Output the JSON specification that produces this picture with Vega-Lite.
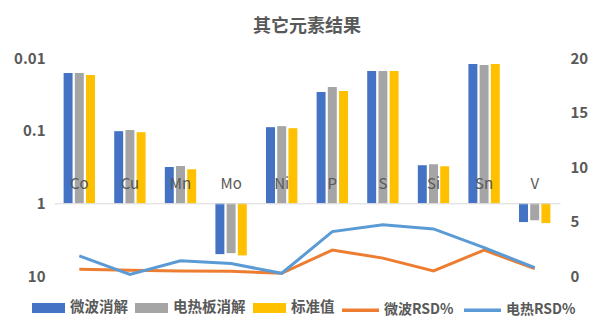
{
  "$schema": "https://vega.github.io/schema/vega-lite/v6.json",
  "width": 506,
  "height": 218,
  "autosize": {"type": "none"},
  "padding": {"left": 54, "top": 58, "right": 42, "bottom": 59},
  "background": "white",
  "title": {"text": "其它元素结果", "fontSize": 18, "fontWeight": "bold", "color": "#595959", "font": "Noto Sans CJK SC", "offset": 15, "anchor": "middle"},
  "config": {"view": {"stroke": null}, "font": "Noto Sans CJK SC"},
  "datasets": {
    "bars": [
      {"element": "Co", "method": "微波消解", "value": 0.0161},
      {"element": "Co", "method": "电热板消解", "value": 0.0161},
      {"element": "Co", "method": "标准值", "value": 0.0171},
      {"element": "Cu", "method": "微波消解", "value": 0.1016},
      {"element": "Cu", "method": "电热板消解", "value": 0.098},
      {"element": "Cu", "method": "标准值", "value": 0.105},
      {"element": "Mn", "method": "微波消解", "value": 0.316},
      {"element": "Mn", "method": "电热板消解", "value": 0.306},
      {"element": "Mn", "method": "标准值", "value": 0.34},
      {"element": "Mo", "method": "微波消解", "value": 5.0},
      {"element": "Mo", "method": "电热板消解", "value": 4.85},
      {"element": "Mo", "method": "标准值", "value": 5.2},
      {"element": "Ni", "method": "微波消解", "value": 0.0895},
      {"element": "Ni", "method": "电热板消解", "value": 0.0867},
      {"element": "Ni", "method": "标准值", "value": 0.0925},
      {"element": "P", "method": "微波消解", "value": 0.0294},
      {"element": "P", "method": "电热板消解", "value": 0.0251},
      {"element": "P", "method": "标准值", "value": 0.0285},
      {"element": "S", "method": "微波消解", "value": 0.0151},
      {"element": "S", "method": "电热板消解", "value": 0.0151},
      {"element": "S", "method": "标准值", "value": 0.0151},
      {"element": "Si", "method": "微波消解", "value": 0.299},
      {"element": "Si", "method": "电热板消解", "value": 0.29},
      {"element": "Si", "method": "标准值", "value": 0.309},
      {"element": "Sn", "method": "微波消解", "value": 0.0121},
      {"element": "Sn", "method": "电热板消解", "value": 0.0125},
      {"element": "Sn", "method": "标准值", "value": 0.0121},
      {"element": "V", "method": "微波消解", "value": 1.81},
      {"element": "V", "method": "电热板消解", "value": 1.71},
      {"element": "V", "method": "标准值", "value": 1.87}
    ],
    "lines": [
      {"element": "Co", "series": "微波RSD%", "rsd": 0.62},
      {"element": "Cu", "series": "微波RSD%", "rsd": 0.53},
      {"element": "Mn", "series": "微波RSD%", "rsd": 0.46},
      {"element": "Mo", "series": "微波RSD%", "rsd": 0.43},
      {"element": "Ni", "series": "微波RSD%", "rsd": 0.25},
      {"element": "P", "series": "微波RSD%", "rsd": 2.38},
      {"element": "S", "series": "微波RSD%", "rsd": 1.64},
      {"element": "Si", "series": "微波RSD%", "rsd": 0.46},
      {"element": "Sn", "series": "微波RSD%", "rsd": 2.38},
      {"element": "V", "series": "微波RSD%", "rsd": 0.68},
      {"element": "Co", "series": "电热RSD%", "rsd": 1.85},
      {"element": "Cu", "series": "电热RSD%", "rsd": 0.15},
      {"element": "Mn", "series": "电热RSD%", "rsd": 1.39},
      {"element": "Mo", "series": "电热RSD%", "rsd": 1.14},
      {"element": "Ni", "series": "电热RSD%", "rsd": 0.25},
      {"element": "P", "series": "电热RSD%", "rsd": 4.07},
      {"element": "S", "series": "电热RSD%", "rsd": 4.69},
      {"element": "Si", "series": "电热RSD%", "rsd": 4.32},
      {"element": "Sn", "series": "电热RSD%", "rsd": 2.6},
      {"element": "V", "series": "电热RSD%", "rsd": 0.77}
    ]
  },
  "layer": [
    {
      "data": {"name": "bars"},
      "mark": {"type": "bar"},
      "encoding": {
        "x": {
          "field": "element", "type": "nominal", "sort": null,
          "scale": {"paddingInner": 0.38, "paddingOuter": 0.19},
          "axis": {"title": null, "orient": "bottom", "offset": -72.7, "domainColor": "#D9D9D9", "domainWidth": 1, "ticks": false, "tickSize": 0, "labelPadding": -20, "labelBaseline": "middle", "labelColor": "#595959", "labelFontSize": 15, "labelFontWeight": "normal", "labelAngle": 0, "zindex": 1}
        },
        "xOffset": {"field": "method", "type": "nominal", "sort": ["微波消解", "电热板消解", "标准值"], "scale": {"paddingInner": 0.2, "paddingOuter": 0}},
        "y": {
          "field": "value", "type": "quantitative",
          "scale": {"type": "log", "domain": [0.01, 10], "reverse": true, "nice": false},
          "axis": {"title": null, "orient": "left", "values": [0.01, 0.1, 1, 10], "format": "~g", "domain": false, "ticks": false, "grid": false, "labelPadding": 9, "labelFontSize": 15, "labelFontWeight": "bold", "labelColor": "#595959"}
        },
        "y2": {"datum": 1},
        "color": {
          "field": "method", "type": "nominal",
          "scale": {"domain": ["微波消解", "电热板消解", "标准值"], "range": ["#4472C4", "#A5A5A5", "#FFC000"]},
          "legend": {"orient": "none", "legendX": -22, "legendY": 233.5, "direction": "horizontal", "title": null, "symbolType": "M-1,-0.303H1V0.303H-1Z", "symbolSize": 1089, "symbolStrokeWidth": 0, "labelFontSize": 14.5, "labelFontWeight": "bold", "labelColor": "#595959", "labelOffset": 5, "columnPadding": 7}
        }
      }
    },
    {
      "data": {"name": "lines"},
      "mark": {"type": "line", "strokeWidth": 3},
      "encoding": {
        "x": {"field": "element", "type": "nominal", "sort": null},
        "y": {
          "field": "rsd", "type": "quantitative",
          "scale": {"domain": [0, 20], "nice": false},
          "axis": {"title": null, "orient": "right", "values": [0, 5, 10, 15, 20], "domain": false, "ticks": false, "grid": false, "labelPadding": 10, "labelFontSize": 15, "labelFontWeight": "bold", "labelColor": "#595959"}
        },
        "stroke": {
          "field": "series", "type": "nominal",
          "scale": {"domain": ["微波RSD%", "电热RSD%"], "range": ["#ED7D31", "#5B9BD5"]},
          "legend": {"orient": "none", "legendX": 286, "legendY": 231.5, "direction": "horizontal", "title": null, "symbolType": "M-1,0H1", "symbolSize": 1369, "symbolStrokeWidth": 3.5, "labelFontSize": 14, "labelFontWeight": "bold", "labelColor": "#595959", "labelOffset": 3, "columnPadding": 3}
        }
      }
    }
  ],
  "resolve": {"scale": {"y": "independent"}}
}
